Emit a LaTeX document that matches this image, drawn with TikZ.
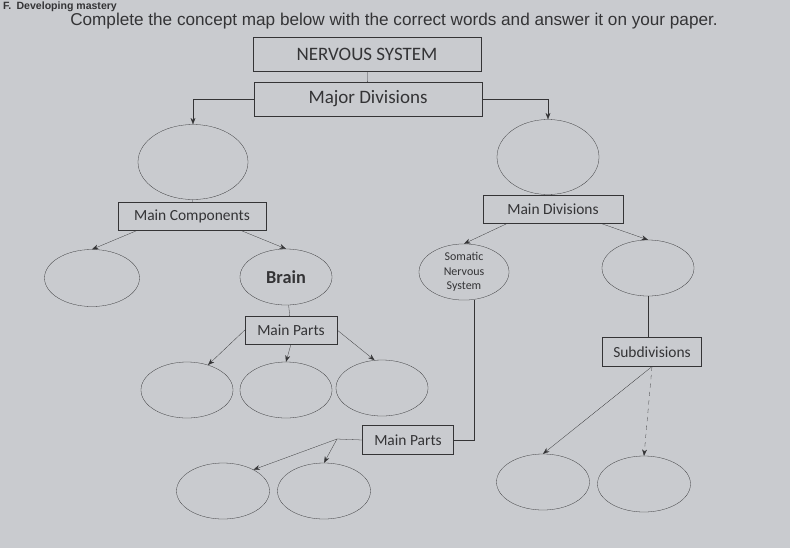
\documentclass[tikz,border=0pt]{standalone}
\usepackage{fontspec}
\setmainfont{Carlito}
\newfontfamily\arialfont{Liberation Sans}
\usetikzlibrary{shapes.geometric, arrows.meta}
\definecolor{paper}{RGB}{201,203,207}
\definecolor{ink}{RGB}{52,52,54}

\begin{document}
\begin{tikzpicture}[
			x=0.025cm, y=-0.025cm, very thin, draw=ink, text=ink,
			>={Stealth[length=1.6mm, width=1.2mm]},
			box/.style={draw, rectangle, inner sep=0pt, font=\fontsize{11}{13}\selectfont},
			bigbox/.style={box, minimum width=5.7cm, minimum height=0.85cm, font=\fontsize{13.5}{15}\selectfont},
			blank/.style={draw, ellipse, inner sep=0pt, minimum width=2.3cm, minimum height=1.4cm}
			]
			\fill[paper] (0,0) rectangle (790,548);
			\useasboundingbox (0,0) rectangle (790,548);
			% heading and instruction
			\node[anchor=base west, inner sep=0pt, font=\arialfont\bfseries\fontsize{7.5}{9}\selectfont] (head) at (3,9.5) {F.\enspace Developing mastery};
			\node[font=\arialfont\fontsize{12.2}{14}\selectfont] (task) at (394,21)
				{Complete the concept map below with the correct words and answer it on your paper.};
			% top boxes
			\node[bigbox] (ns) at (367,54) {NERVOUS SYSTEM};
			\node[bigbox] (md) at (368,99) {Major Divisions};
			% first level
			\node[blank, minimum width=2.75cm, minimum height=1.875cm] (l1) at (193,162) {};
			\node[blank, minimum width=2.55cm, minimum height=1.875cm] (r1) at (548,157) {};
			\node[box, minimum width=3.7cm, minimum height=0.7cm] (mc) at (192,216) {Main Components};
			\node[box, minimum width=3.5cm, minimum height=0.7cm] (mdiv) at (553,209) {Main Divisions};
			% second level
			\node[blank, minimum width=2.375cm, minimum height=1.425cm] (l2) at (92,278) {};
			\node[blank, minimum width=2.3cm, minimum height=1.4cm, font=\bfseries\fontsize{13}{15}\selectfont] (br) at (286,277) {Brain};
			\node[blank, minimum width=2.25cm, minimum height=1.4cm, align=center, font=\fontsize{8.5}{10.5}\selectfont] (sns) at (464,272) {Somatic\\Nervous\\System};
			\node[blank, minimum width=2.3cm, minimum height=1.4cm] (r2) at (648,268) {};
			% parts of the brain
			\node[box, minimum width=2.3cm, minimum height=0.7cm] (mp1) at (291,330) {Main Parts};
			\node[blank] (e1) at (187,390) {};
			\node[blank] (e2) at (286,390) {};
			\node[blank] (e3) at (382,388) {};
			% parts of the somatic system
			\node[box, minimum width=2.275cm, minimum height=0.72cm] (mp2) at (408,440) {Main Parts};
			\coordinate (j) at (337,439);
			\node[blank, minimum width=2.325cm] (b1) at (223,491) {};
			\node[blank, minimum width=2.325cm] (b2) at (324,491) {};
			% subdivisions
			\node[box, minimum width=2.475cm, minimum height=0.72cm] (sub) at (652,352) {Subdivisions};
			\node[blank, minimum width=2.325cm] (s1) at (543,482) {};
			\node[blank, minimum width=2.325cm] (s2) at (644,484) {};
			% connectors
			\draw (ns) -- (md);
			\draw[->] (md.west) -| (l1.north);
			\draw[->] (md.east) -| (r1.north);
			\draw (l1) -- (mc);
			\draw (r1) -- (mdiv);
			\draw[->] ([xshift=0.5cm]mc.south west) -- (l2.north);
			\draw[->] ([xshift=-0.65cm]mc.south east) -- (br.north);
			\draw[->] ([xshift=0.625cm]mdiv.south west) -- (sns.north);
			\draw[->] ([xshift=-0.575cm]mdiv.south east) -- (r2.north);
			\draw (br) -- (mp1);
			\draw[->] (mp1.west) -- (e1.50);
			\draw[->] (mp1.south) -- (e2.north);
			\draw[->] (mp1.east) -- (e3.105);
			\draw (mp2.east) -| (sns.-70);
			\draw (mp2.west) -- (j);
			\draw[->] (j) -- (b1.35);
			\draw[->] (j) -- (b2.north);
			\draw (r2.south) -- (r2.south |- sub.north);
			\draw[->] (sub.south) -- (s1.north);
			\draw[->, dashed] (sub.south) -- (s2.north);
		\end{tikzpicture}
\end{document}
